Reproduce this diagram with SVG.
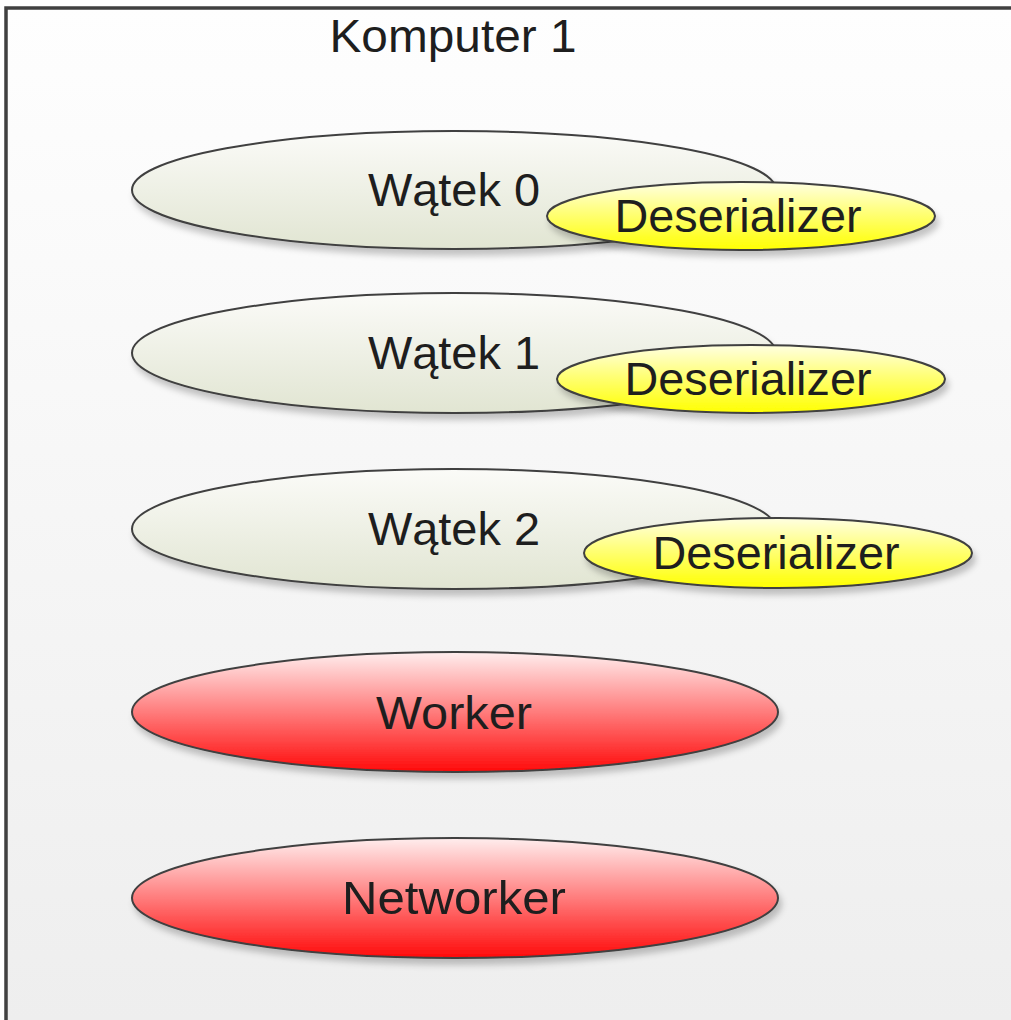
<svg xmlns="http://www.w3.org/2000/svg" width="1011" height="1020" viewBox="0 0 1011 1020">
  <defs>
    <linearGradient id="bg" x1="0" y1="0" x2="0" y2="1">
      <stop offset="0" stop-color="#fefefe"/>
      <stop offset="1" stop-color="#eeeeee"/>
    </linearGradient>
    <linearGradient id="threadFill" x1="0" y1="0" x2="0" y2="1">
      <stop offset="0" stop-color="#fbfbf8"/>
      <stop offset="1" stop-color="#e1e5d2"/>
    </linearGradient>
    <linearGradient id="deserFill" x1="0" y1="0" x2="0" y2="1">
      <stop offset="0" stop-color="#ffffe2"/>
      <stop offset="0.45" stop-color="#ffff78"/>
      <stop offset="1" stop-color="#ffff00"/>
    </linearGradient>
    <linearGradient id="workerFill" x1="0" y1="0" x2="0" y2="1">
      <stop offset="0" stop-color="#ffeeee"/>
      <stop offset="1" stop-color="#ff0a0a"/>
    </linearGradient>
    <filter id="shadow" x="-10%" y="-30%" width="120%" height="170%">
      <feDropShadow dx="3" dy="6" stdDeviation="3" flood-color="#000" flood-opacity="0.22"/>
    </filter>
  </defs>
  <style>
    .shape { stroke: #404040; stroke-width: 2; filter: url(#shadow); }
    .thread { fill: url(#threadFill); }
    .deser { fill: url(#deserFill); }
    .worker { fill: url(#workerFill); }
    text { font-family: "Liberation Sans", Arial, sans-serif; font-size: 47px; text-anchor: middle; fill: #1e1e1e; }
    .frame { fill: none; stroke: #404040; stroke-width: 3.5; }
  </style>

  <!-- container: Komputer 1 -->
  <g id="computer1">
    <rect x="0" y="0" width="1011" height="1020" fill="#ffffff"/>
    <rect x="6" y="8" width="1005" height="1012" fill="url(#bg)"/>
    <path class="frame" d="M6 1020 V8 H1011"/>
    <text x="453" y="52" textLength="247" lengthAdjust="spacingAndGlyphs">Komputer 1</text>
  </g>

  <!-- thread 0 with its deserializer -->
  <g id="thread0">
    <ellipse class="shape thread" cx="454" cy="190" rx="322" ry="59"/>
    <text x="454" y="206" textLength="172" lengthAdjust="spacingAndGlyphs">Wątek 0</text>
  </g>
  <g id="deserializer0">
    <ellipse class="shape deser" cx="741" cy="216" rx="194" ry="34"/>
    <text x="738" y="232" textLength="247" lengthAdjust="spacingAndGlyphs">Deserializer</text>
  </g>

  <!-- thread 1 with its deserializer -->
  <g id="thread1">
    <ellipse class="shape thread" cx="454" cy="353" rx="322" ry="60"/>
    <text x="454" y="369" textLength="172" lengthAdjust="spacingAndGlyphs">Wątek 1</text>
  </g>
  <g id="deserializer1">
    <ellipse class="shape deser" cx="751" cy="379" rx="194" ry="34"/>
    <text x="748" y="395" textLength="247" lengthAdjust="spacingAndGlyphs">Deserializer</text>
  </g>

  <!-- thread 2 with its deserializer -->
  <g id="thread2">
    <ellipse class="shape thread" cx="454" cy="529" rx="322" ry="60"/>
    <text x="454" y="545" textLength="172" lengthAdjust="spacingAndGlyphs">Wątek 2</text>
  </g>
  <g id="deserializer2">
    <ellipse class="shape deser" cx="778" cy="553" rx="194" ry="35"/>
    <text x="776" y="569" textLength="247" lengthAdjust="spacingAndGlyphs">Deserializer</text>
  </g>

  <!-- worker and networker -->
  <g id="worker">
    <ellipse class="shape worker" cx="455" cy="712" rx="323" ry="60"/>
    <text x="454" y="729" textLength="156" lengthAdjust="spacingAndGlyphs">Worker</text>
  </g>
  <g id="networker">
    <ellipse class="shape worker" cx="455" cy="898" rx="323" ry="60"/>
    <text x="454" y="914" textLength="224" lengthAdjust="spacingAndGlyphs">Networker</text>
  </g>

  <!-- no connectors in this diagram -->
  <g id="connectors"/>
</svg>
